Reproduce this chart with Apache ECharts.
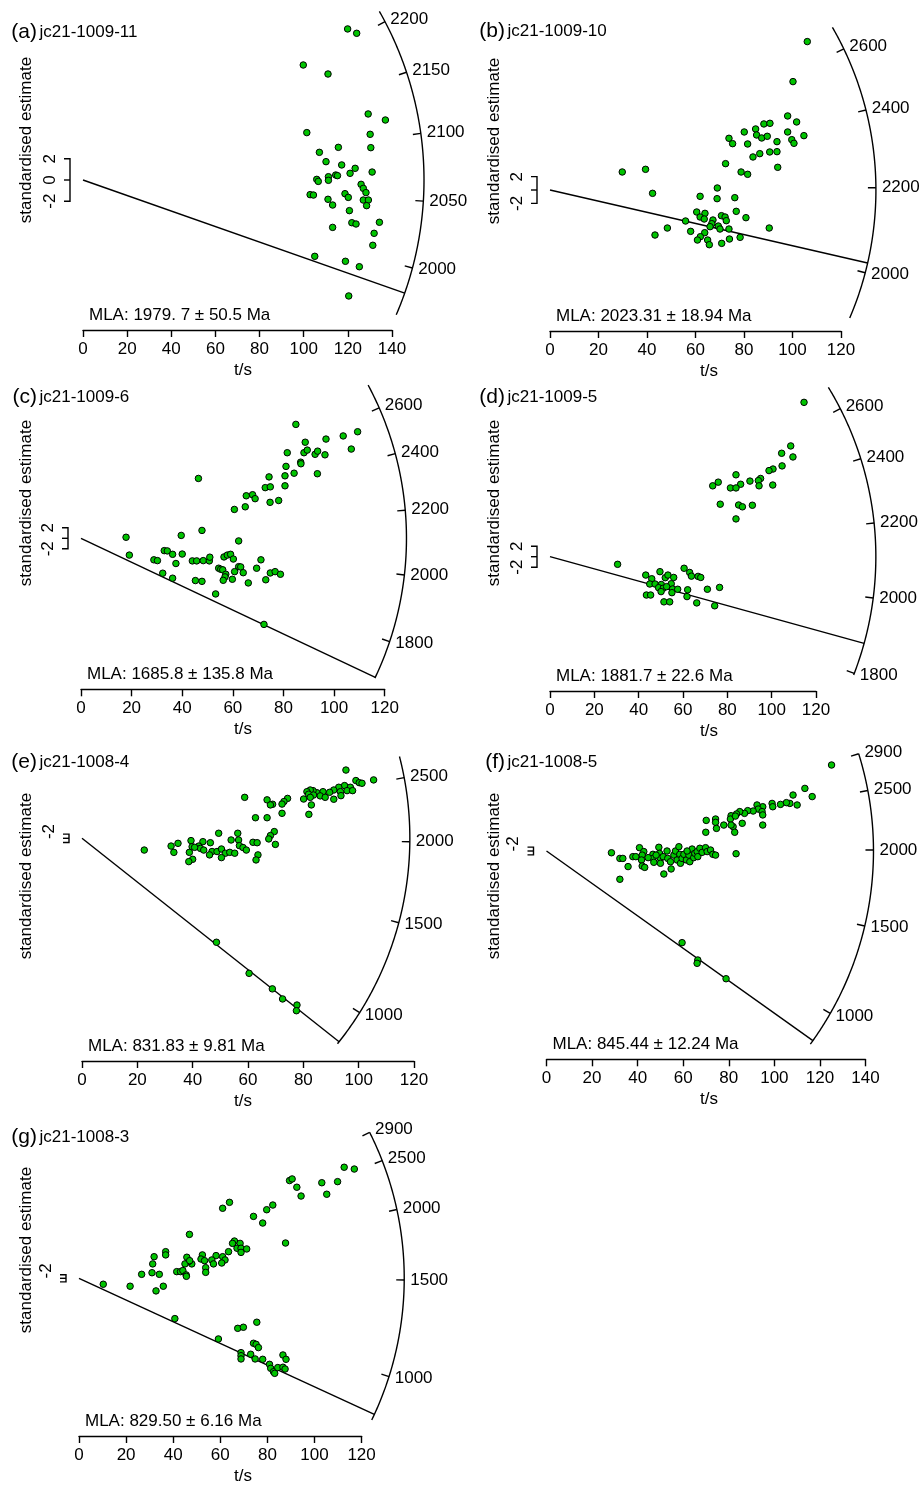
<!DOCTYPE html>
<html><head><meta charset="utf-8">
<script src="https://cdn.jsdelivr.net/npm/echarts@6/dist/echarts.min.js"></script>
<style>html,body{margin:0;padding:0;background:#fff}#c{width:922px;height:1485px}</style>
</head><body><div id="c"></div>
<script>
// ---------- data ----------
const panelLetters = ['(a)','(b)','(c)','(d)','(e)','(f)','(g)'];
const sampleNames = ['jc21-1009-11','jc21-1009-10','jc21-1009-6','jc21-1009-5','jc21-1008-4','jc21-1008-5','jc21-1008-3'];
const mlaLabels = ['MLA: 1979. 7 \u00b1 50.5 Ma','MLA: 2023.31 \u00b1 18.94 Ma','MLA: 1685.8 \u00b1 135.8 Ma','MLA: 1881.7 \u00b1 22.6 Ma','MLA: 831.83 \u00b1 9.81 Ma','MLA: 845.44 \u00b1 12.24 Ma','MLA: 829.50 \u00b1 6.16 Ma'];
const mlaAges = [1979.7, 2023.31, 1685.8, 1881.7, 831.83, 845.44, 829.50];
const xMaxes = [140, 120, 120, 120, 120, 140, 120];
const arcTickAges = [
  [2000,2050,2100,2150,2200],
  [2000,2200,2400,2600],
  [1800,2000,2200,2400,2600],
  [1800,2000,2200,2400,2600],
  [1000,1500,2000,2500],
  [1000,1500,2000,2500,2900],
  [1000,1500,2000,2500,2900]
];
const arcRanges = [[1961,2212],[1887,2690],[1683,2722],[1796,2708],[820,2703],[825,2900],[805,2900]];
const refAges = [2065.4, 2194.5, 2111, 2108, 2023.5, 1992.8, 1509.8];
const slopeScales = [1.728, 1.029, 1.012, 1.026, 1.173, 0.970, 1.007];
const bracketTicks = [-2, 0, 2];
const bracketLabels = [
  [[-2,'-2'],[0,'0'],[2,'2']],
  [[-2,'-2'],[2,'2']],
  [[-2,'-2'],[2,'2']],
  [[-2,'-2'],[2,'2']],
  [[-2,'-2']],
  [[-2,'-2']],
  [[-2,'-2']]
];
const xAxisName = 't/s';
const yAxisName = 'standardised estimate';

const ptsA = [[119.9,14.25],[124.0,13.84],[99.8,10.85],[111.0,10.0],[129.2,6.23],[137.0,5.66],[101.4,4.47],[130.1,4.31],[115.7,3.08],[130.4,3.05],[107.1,2.61],[110.1,1.73],[117.2,1.42],[123.3,1.10],[121.0,0.63],[131.0,0.75],[114.5,0.47],[115.3,0.41],[111.2,0.31],[105.9,0.06],[106.6,-0.13],[111.2,-0.03],[126.0,-0.41],[127.0,-0.79],[128.2,-1.19],[102.9,-1.38],[104.4,-1.42],[118.7,-1.29],[120.2,-1.64],[111.0,-1.82],[127.0,-1.89],[129.3,-1.89],[128.5,-2.42],[113.1,-2.36],[120.7,-2.89],[121.8,-4.03],[123.7,-4.15],[134.3,-3.99],[113.1,-4.47],[131.9,-5.03],[131.3,-6.16],[105.0,-7.20],[118.9,-7.67],[125.2,-8.18],[120.4,-10.94]];
const ptsB = [[106.1,22.25],[100.2,16.25],[98.0,11.1],[101.7,10.2],[88.2,9.9],[90.7,10.0],[84.8,9.15],[80.1,8.7],[85.2,8.25],[87.3,7.8],[89.6,8.05],[98.0,8.7],[104.7,8.15],[99.7,7.55],[100.6,7.0],[93.6,7.25],[73.8,7.75],[75.3,6.95],[81.5,6.9],[90.6,5.7],[93.6,5.75],[86.5,5.45],[83.7,4.95],[93.9,3.4],[72.4,3.95],[78.8,2.7],[81.5,2.35],[29.8,2.7],[39.4,3.1],[42.3,-0.5],[69.0,0.3],[61.9,-0.95],[68.9,-1.3],[76.2,-1.15],[76.8,-3.2],[80.8,-4.15],[60.5,-3.3],[63.9,-3.5],[61.9,-4.05],[63.6,-4.35],[67.2,-4.5],[70.7,-3.85],[72.2,-4.05],[72.7,-4.6],[55.9,-4.65],[66.7,-5.05],[66.0,-5.5],[69.4,-5.4],[70.1,-5.85],[73.8,-5.85],[48.4,-5.7],[58.0,-6.2],[63.8,-6.4],[62.0,-7.0],[60.8,-7.5],[65.0,-7.5],[65.7,-8.2],[70.8,-8.0],[74.0,-7.35],[78.4,-7.1],[90.4,-5.7],[43.3,-6.75]];
const ptsC = [[84.9,21.7],[109.3,20.3],[103.6,19.5],[96.8,18.9],[88.6,18.3],[88.1,16.3],[89.4,16.8],[81.5,16.3],[106.8,17.0],[92.5,16.0],[93.5,16.6],[96.4,15.9],[86.8,14.5],[86.9,14.2],[81.0,13.7],[84.2,12.4],[80.6,11.9],[93.4,12.3],[74.3,11.7],[72.8,9.65],[74.8,9.8],[80.6,10.0],[46.4,11.4],[65.3,8.1],[67.8,8.3],[68.8,7.55],[74.7,6.85],[78.1,7.2],[64.9,6.0],[60.6,5.5],[47.8,1.5],[17.8,0.2],[39.6,0.55],[62.3,-0.5],[19.1,-3.2],[28.8,-4.1],[30.2,-4.25],[32.9,-2.35],[34.1,-2.4],[36.2,-3.05],[40.0,-3.0],[37.5,-4.8],[44.0,-4.3],[45.7,-4.3],[48.3,-4.25],[50.7,-4.3],[50.9,-3.6],[56.5,-3.55],[57.8,-3.2],[59.1,-3.05],[60.2,-3.95],[71.1,-4.1],[54.4,-5.7],[55.2,-5.9],[56.0,-6.0],[62.3,-5.4],[63.1,-5.45],[60.7,-6.35],[64.1,-6.55],[57.2,-6.85],[56.9,-7.35],[56.2,-8.0],[59.8,-7.8],[69.4,-5.7],[74.8,-6.6],[76.7,-6.35],[78.8,-6.85],[32.3,-6.65],[36.2,-7.6],[45.2,-8.05],[47.8,-8.2],[66.1,-8.5],[73.0,-7.9],[53.2,-10.6],[72.3,-16.4]];
const ptsD = [[114.6,29.4],[108.6,21.1],[104.5,19.7],[109.6,19.0],[104.7,17.3],[100.6,16.7],[98.8,16.4],[83.9,15.6],[95.0,14.9],[94.0,14.5],[90.2,14.4],[75.9,14.2],[86.0,13.8],[73.4,13.5],[81.4,13.1],[83.9,13.1],[94.3,13.5],[100.5,13.65],[76.8,10.0],[85.1,9.85],[86.8,9.5],[91.3,9.8],[83.9,7.2],[30.5,-1.45],[60.5,-2.2],[63.0,-3.0],[63.8,-3.7],[49.6,-2.85],[43.2,-3.5],[45.9,-4.2],[52.0,-4.0],[53.2,-3.5],[55.8,-3.95],[66.8,-3.75],[68.0,-3.95],[45.0,-5.2],[47.4,-5.2],[50.2,-5.3],[54.7,-5.15],[49.0,-5.9],[51.1,-6.0],[55.3,-6.15],[57.6,-6.2],[52.6,-5.7],[50.1,-6.65],[55.0,-6.85],[62.1,-6.3],[71.0,-6.2],[76.5,-5.85],[43.5,-7.3],[45.4,-7.3],[61.8,-7.6],[51.4,-8.6],[54.0,-8.6],[66.2,-8.8],[74.3,-9.35]];
const ptsE = [[95.4,32.5],[105.4,27.8],[99.0,27.5],[100.2,26.5],[101.2,26.2],[94.9,25.1],[97.0,24.3],[92.8,24.3],[91.0,23.0],[93.4,22.2],[95.8,22.7],[97.8,22.7],[89.5,21.9],[87.1,22.2],[84.9,21.7],[83.5,22.7],[82.5,23.0],[81.3,22.2],[81.9,21.0],[83.7,20.6],[86.1,20.2],[93.6,20.3],[87.9,19.5],[91.0,18.6],[82.5,19.5],[80.1,18.7],[82.9,15.9],[82.0,11.4],[74.3,19.0],[73.0,17.5],[72.3,16.3],[68.9,16.2],[66.9,18.3],[68.1,15.9],[58.8,19.5],[72.3,11.9],[62.7,9.8],[66.9,9.8],[69.5,3.2],[68.1,1.3],[67.5,-0.3],[69.9,-2.9],[49.4,2.4],[56.3,2.4],[53.9,-0.8],[56.6,-0.8],[61.8,-1.9],[63.3,-2.1],[56.9,-3.5],[58.2,-4.4],[59.4,-5.6],[39.4,-1.1],[43.7,-1.6],[46.4,-2.1],[34.7,-2.4],[32.2,-3.7],[39.8,-4.0],[42.2,-3.7],[42.8,-4.8],[44.0,-5.6],[47.0,-6.3],[48.8,-6.3],[50.4,-5.1],[51.8,-7.1],[53.4,-6.7],[55.2,-7.1],[46.1,-7.9],[50.4,-9.2],[38.8,-6.7],[33.2,-6.7],[22.5,-5.6],[40.0,-10.0],[38.6,-11.1],[63.6,-7.9],[62.9,-10.3],[40.7,-4.3],[48.6,-49.5],[60.4,-64.3],[68.8,-71.7],[72.5,-76.5],[77.7,-79.4],[77.5,-82.1]];
const ptsF = [[125.1,44.1],[113.4,32.1],[116.6,27.9],[108.2,28.7],[110.0,23.6],[106.8,24.4],[105.3,24.8],[102.7,23.9],[99.0,24.4],[99.3,22.7],[94.9,22.7],[92.4,23.6],[92.9,21.5],[94.6,20.2],[94.9,18.5],[94.9,13.3],[90.7,20.5],[88.3,20.7],[86.9,19.3],[84.8,20.2],[83.4,19.0],[81.0,18.1],[80.7,16.4],[82.9,17.9],[85.9,14.2],[81.9,12.5],[81.0,13.3],[82.6,9.6],[77.8,13.3],[74.2,16.4],[74.2,14.7],[74.6,11.6],[70.1,15.7],[69.9,9.6],[83.2,-1.4],[28.5,-0.9],[32.2,-3.8],[33.5,-3.8],[32.2,-14.5],[35.8,-8.0],[37.9,-2.9],[39.2,-2.9],[40.8,1.7],[42.7,-0.3],[42.0,-2.1],[41.7,-4.6],[42.0,-7.7],[43.1,-8.4],[46.7,-1.7],[46.7,-3.8],[47.1,-5.8],[49.3,1.9],[49.6,-1.2],[50.0,-3.8],[50.0,-6.3],[51.2,-2.9],[51.5,-11.8],[52.9,0.0],[53.2,-3.8],[54.4,-5.5],[54.7,-9.2],[55.9,-2.1],[56.6,0.0],[57.3,-4.6],[58.1,2.2],[58.5,-1.7],[58.8,-6.3],[59.5,-3.8],[60.3,-1.7],[61.4,-4.6],[62.5,-2.1],[62.9,-5.5],[63.9,1.0],[64.6,-3.4],[65.1,-1.2],[66.1,-0.3],[66.4,-2.9],[67.3,1.4],[68.3,-0.7],[69.8,1.7],[70.5,-0.3],[72.0,0.5],[73.0,-1.7],[74.2,-2.1],[48.1,-2.1],[44.6,-3.4],[61.7,0.0],[59.5,-47.0],[66.4,-55.9],[66.1,-57.6],[78.8,-65.5]];
const ptsG = [[112.6,61.7],[116.9,60.7],[89.4,54.3],[90.5,55.2],[103.1,53.1],[109.8,53.7],[92.5,50.6],[94.3,45.7],[105.2,46.7],[63.9,42.2],[61.0,38.9],[82.3,40.7],[79.7,38.1],[74.1,34.4],[78.0,30.7],[46.9,24.4],[87.7,19.6],[66.0,20.7],[68.4,19.4],[65.2,19.4],[67.1,16.7],[68.8,16.7],[71.2,16.3],[68.8,14.4],[63.5,14.8],[58.2,12.6],[61.0,12.0],[62.0,10.2],[60.6,8.5],[56.4,10.2],[57.1,8.0],[52.4,13.0],[51.8,10.7],[53.3,9.8],[53.8,5.9],[53.8,3.3],[47.9,8.0],[46.5,9.3],[45.8,11.7],[45.0,8.0],[47.0,9.8],[36.8,14.8],[36.8,13.0],[31.9,12.0],[31.3,8.0],[31.0,3.1],[34.1,2.2],[26.6,2.2],[41.5,3.7],[43.1,3.7],[44.1,4.3],[45.5,1.9],[45.6,1.1],[35.8,-4.4],[32.7,-7.0],[21.7,-4.4],[10.3,-3.3],[40.7,-22.4],[59.2,-33.7],[67.4,-27.8],[69.8,-27.2],[75.5,-24.4],[74.1,-36.1],[75.2,-36.7],[76.2,-38.5],[68.8,-41.3],[68.8,-43.0],[68.8,-44.8],[72.9,-42.2],[74.8,-44.8],[78.0,-45.0],[80.9,-47.8],[81.4,-50.0],[82.6,-51.9],[83.1,-52.8],[84.4,-49.6],[86.6,-42.6],[87.9,-45.0],[86.6,-49.4],[87.5,-50.4]];
const allPoints = [ptsA, ptsB, ptsC, ptsD, ptsE, ptsF, ptsG];

// ---------- layout (pixel positions, styles) ----------
const layout = [
  {x0:83,    axisY:330,    w:309,   oy:180,    sy:10.6, top:5,    rt:154.5, col:0,   ylabY:140, titleY:32,    lblDy:0},
  {x0:550,   axisY:331,    w:291,   oy:190,    sy:6.67, top:5,    rt:134.4, col:468, ylabY:141, titleY:31,    lblDy:0},
  {x0:81,    axisY:689.3,  w:303.7, oy:538.3,  sy:5.25, top:380,  rt:128.6, col:0,   ylabY:503, titleY:397.5, lblDy:0},
  {x0:550,   axisY:691,    w:266,   oy:556.7,  sy:5.25, top:380,  rt:147.0, col:468, ylabY:503, titleY:397.5, lblDy:0},
  {x0:82,    axisY:1061,   w:332,   oy:838.3,  sy:2.1,  top:748,  rt:118.5, col:0,   ylabY:876, titleY:762.5, lblDy:-11},
  {x0:546.5, axisY:1059.3, w:319,   oy:851,    sy:1.95, top:748,  rt:143.5, col:468, ylabY:876, titleY:762,   lblDy:-11},
  {x0:79,    axisY:1436,   w:282.6, oy:1278.3, sy:1.8,  top:1118, rt:138.1, col:0,   ylabY:1250,titleY:1137.5,lblDy:-11}
];
const FONT = '"Liberation Sans", Arial, Helvetica, sans-serif';
const f = (s) => s + 'px ' + FONT;
const LW = 1.4;
const GREEN = '#00c400';

function txt(x, y, text, size, align, valign, rot) {
  return {type:'text', x:x, y:y, rotation: rot || 0, silent:true,
    style:{text:text, x:0, y:0, font:f(size), fill:'#000',
      align:align, verticalAlign:valign, textAlign:align, textVerticalAlign:valign}};
}

function makeRender(i) {
  return function (params, api) {
    const L = layout[i];
    const o = api.coord([0, 0]);
    const R = api.coord([L.rt, 0])[0] - o[0];
    const ang = (age) => {
      const s = slopeScales[i] * Math.log(age / refAges[i]);
      const p = api.coord([1, s]);
      return Math.atan2(p[1] - o[1], p[0] - o[0]);
    };
    const pt = (a, r) => [o[0] + r * Math.cos(a), o[1] + r * Math.sin(a)];
    const ch = [];
    const line = (p1, p2) => ({type:'line', shape:{x1:p1[0], y1:p1[1], x2:p2[0], y2:p2[1]},
      style:{stroke:'#000', lineWidth:LW}, silent:true});
    // arc
    const a0 = ang(arcRanges[i][0]), a1 = ang(arcRanges[i][1]);
    const arcPts = [];
    for (let j = 0; j <= 160; j++) { arcPts.push(pt(a0 + (a1 - a0) * j / 160, R)); }
    ch.push({type:'polyline', shape:{points:arcPts}, style:{stroke:'#000', lineWidth:LW, fill:null}, silent:true});
    // ticks and labels
    arcTickAges[i].forEach((age) => {
      const a = ang(age);
      ch.push(line(pt(a, R - 8), pt(a, R)));
      const lp = pt(a, R + 6);
      ch.push(txt(lp[0], lp[1], String(age), 17, 'left', 'middle'));
    });
    // MLA line
    ch.push(line(o, pt(ang(mlaAges[i]), R)));
    // +-2 bracket
    const bx = o[0] - 13;
    const ys = bracketTicks.map((v) => api.coord([0, v])[1]);
    ch.push({type:'polyline', shape:{points:[[bx - 6, ys[0]], [bx, ys[0]], [bx, ys[2]], [bx - 6, ys[2]]]},
      style:{stroke:'#000', lineWidth:LW, fill:null}, silent:true});
    ch.push(line([bx - 6, ys[1]], [bx, ys[1]]));
    bracketLabels[i].forEach((bl) => {
      const y = api.coord([0, bl[0]])[1] + L.lblDy;
      ch.push(txt(bx - 20, y, bl[1], 17, 'center', 'middle', Math.PI / 2));
    });
    return {type:'group', children:ch};
  };
}

const grids = [], xAxes = [], yAxes = [], series = [], graphics = [];
layout.forEach((L, i) => {
  grids.push({left:L.x0, top:L.top, width:L.w, height:L.axisY - L.top, containLabel:false, outerBoundsMode:'none'});
  xAxes.push({gridIndex:i, type:'value', min:0, max:xMaxes[i], interval:20,
    axisLine:{show:true, onZero:false, lineStyle:{color:'#000', width:LW}},
    axisTick:{show:true, length:7, inside:false, lineStyle:{color:'#000', width:LW}},
    axisLabel:{show:true, color:'#000', fontSize:17, fontFamily:FONT, margin:11},
    splitLine:{show:false}});
  yAxes.push({gridIndex:i, type:'value', min:-(L.axisY - L.oy) / L.sy, max:(L.oy - L.top) / L.sy, show:false});
  series.push({type:'custom', xAxisIndex:i, yAxisIndex:i, data:[[0, 0]], renderItem:makeRender(i),
    clip:false, silent:true, z:2, animation:false});
  series.push({type:'scatter', xAxisIndex:i, yAxisIndex:i, data:allPoints[i], symbol:'circle', symbolSize:6.5,
    itemStyle:{color:GREEN, borderColor:'#000', borderWidth:1, opacity:1}, clip:false, silent:true, z:3, animation:false});
  // texts
  graphics.push(txt(L.col + 37, L.titleY, panelLetters[i], 21, 'right', 'middle'));
  graphics.push(txt(L.col + 39.5, L.titleY, sampleNames[i], 17, 'left', 'middle'));
  graphics.push(txt(L.col + 26, L.ylabY, yAxisName, 17, 'center', 'middle', Math.PI / 2));
  graphics.push(txt(L.x0 + 6, L.axisY - 15, mlaLabels[i], 17, 'left', 'middle'));
  graphics.push(txt(L.col + (L.col ? 241 : 243), L.axisY + 40, xAxisName, 17, 'center', 'middle'));
});

const chart = echarts.init(document.getElementById('c'), null, {renderer:'canvas', width:922, height:1485});
chart.setOption({
  backgroundColor:'#fff',
  animation:false,
  grid:grids, xAxis:xAxes, yAxis:yAxes, series:series,
  graphic:{elements:graphics}
});
</script></body></html>
